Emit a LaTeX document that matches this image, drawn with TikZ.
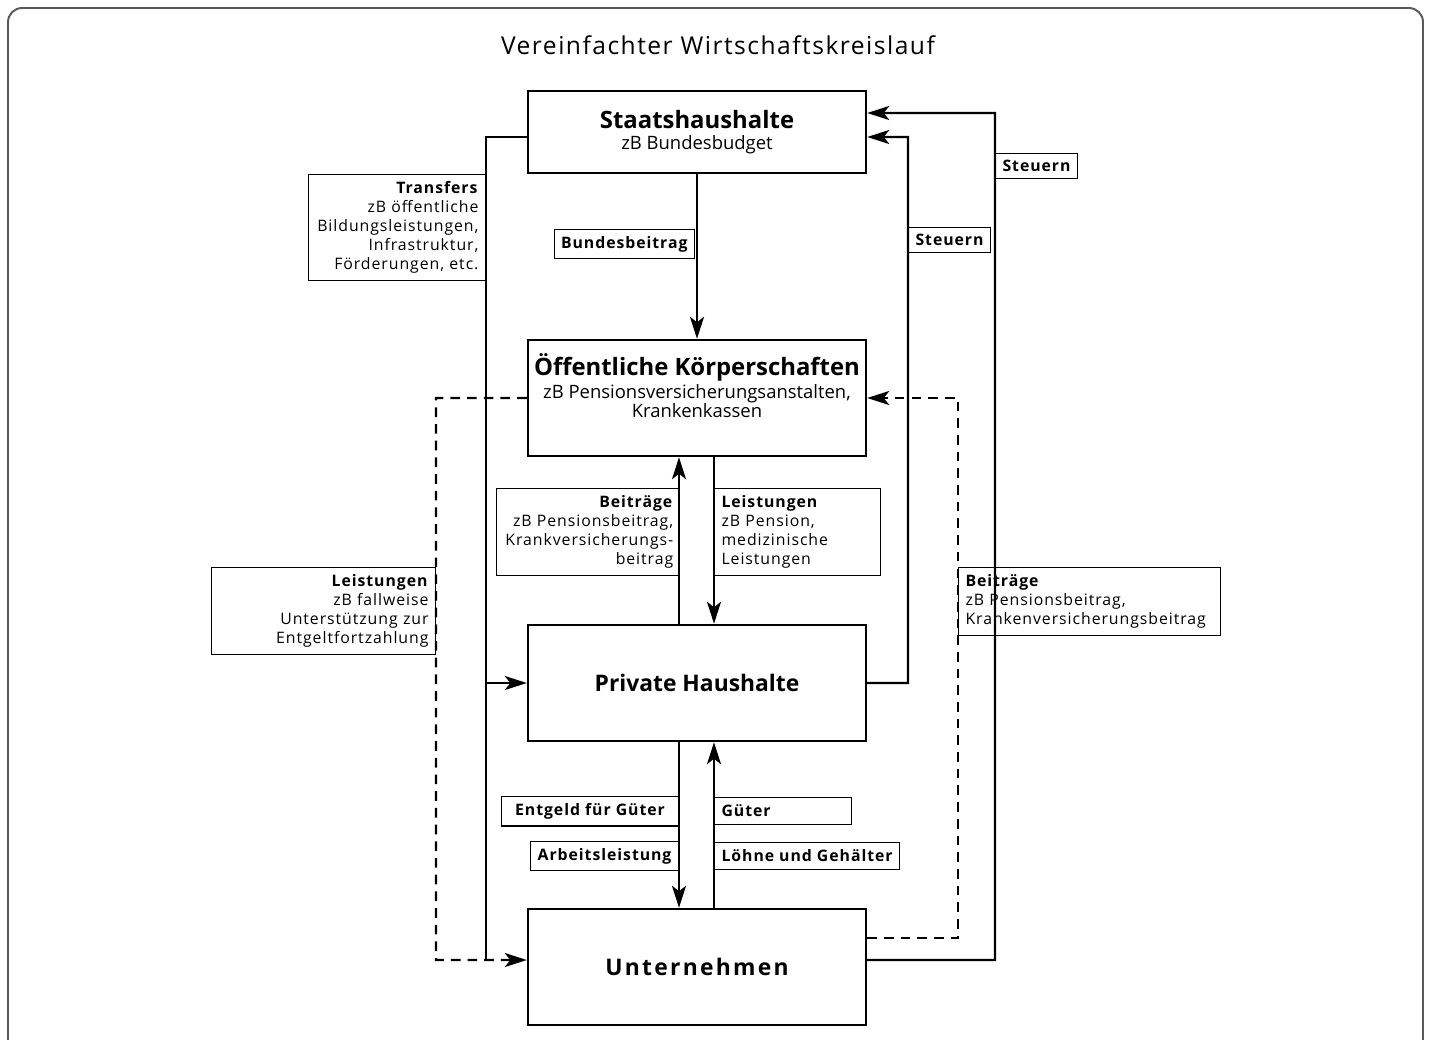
\documentclass[tikz,border=0pt]{standalone}
\usepackage{fontspec}
\setmainfont{Open Sans}
\newfontfamily\spaced[LetterSpace=6]{Open Sans}
\newfontfamily\wide[LetterSpace=10]{Open Sans}
\usepackage{tikz}
\usetikzlibrary{arrows.meta,positioning}

\begin{document}
\begin{tikzpicture}[x=0.02cm, y=-0.02cm,
  box/.style={rectangle, draw, line width=1.4pt, minimum width=6.76cm, minimum height=2.32cm, inner xsep=1pt, align=center, font=\fontsize{10.5}{10.6}\selectfont},
  tag/.style={rectangle, draw, line width=0.6pt, inner xsep=4pt, inner ysep=4pt, font=\spaced\fontsize{9}{10.8}\selectfont},
  flow/.style={line width=1.4pt},
  back/.style={line width=1.4pt, dash pattern=on 5.5pt off 4pt},
  >={Stealth[length=0.44cm, width=0.28cm, inset=0.11cm]}]
 \useasboundingbox (0,0) rectangle (1431,1039);
 \draw [gray!70!black, line width=1.1pt, rounded corners=8pt] (8,8) rectangle (1423,1080);
 \node [font=\spaced\fontsize{14}{16}\selectfont] (title) at (718,45) {Vereinfachter Wirtschaftskreislauf};
 \node [box, minimum height=1.64cm] (staat)  at (697,132) {{\bfseries\fontsize{13.6}{14}\selectfont Staatshaushalte}\\[1pt]zB Bundesbudget};
 \node [box] (koerp)  at (697,398) {{\bfseries\fontsize{13.6}{14}\selectfont Öffentliche Körperschaften}\\[1pt]zB Pensionsversicherungsanstalten,\\Krankenkassen\\[4pt]};
 \node [box] (privat) at (697,683) {\bfseries\fontsize{13}{15}\selectfont Private Haushalte};
 \node [box] (untern) at (697,967) {\wide\bfseries\fontsize{13}{15}\selectfont Unternehmen};
 \coordinate (tlane)  at (486,0);
 \coordinate (dlane)  at (436,0);
 \coordinate (s1lane) at (908,0);
 \coordinate (s2lane) at (995,0);
 \coordinate (blane)  at (958,0);
 \coordinate (llane)  at (679,0);
 \coordinate (rlane)  at (714,0);
  \draw [flow, ->] (staat.south) -- (koerp.north);
  \draw [flow] ([yshift=-0.1cm]staat.west) -| (tlane |- 0,960);
  \draw [flow, ->] (tlane |- privat.west) -- (privat.west);
  \draw [back, ->] (koerp.west) -| (dlane |- 0,960) -- ([yshift=0.14cm]untern.west);
  \draw [flow, ->] (privat.east) -| (s1lane |- 0,137) -- ([yshift=-0.1cm]staat.east);
  \draw [flow, ->] ([yshift=0.14cm]untern.east) -| (s2lane |- 0,113) -- ([yshift=0.38cm]staat.east);
  \draw [back, ->] ([yshift=0.58cm]untern.east) -| (blane |- koerp.east) -- (koerp.east);
  \draw [flow, ->] (llane |- privat.north) -- (llane |- koerp.south);
  \draw [flow, ->] (rlane |- koerp.south) -- (rlane |- privat.north);
  \draw [flow, ->] (llane |- privat.south) -- (llane |- untern.north);
  \draw [flow, ->] (rlane |- untern.north) -- (rlane |- privat.south);
 \node [tag, anchor=east] (bundesb) at (695,244) {\bfseries Bundesbeitrag};
 \node [tag, anchor=north east, text width=3.26cm, align=right] (transfers) at (486,174) {\textbf{Transfers}\\zB öffentliche\\Bildungsleistungen,\\Infrastruktur,\\Förderungen, etc.};
 \node [tag, anchor=west] (steuern1) at (908,240) {\bfseries Steuern};
 \node [tag, anchor=west] (steuern2) at (995,166) {\bfseries Steuern};
 \node [tag, anchor=north east, text width=4.2cm, align=right] (leistL) at (436,567) {\textbf{Leistungen}\\zB fallweise\\Unterstützung zur\\Entgeltfortzahlung};
 \node [tag, anchor=north east, inner xsep=3pt, text width=3.42cm, align=right] (beitrM) at (679,488) {\textbf{Beiträge}\\zB Pensionsbeitrag,\\Krankversicherungs-\\beitrag};
 \node [tag, anchor=north west, text width=3.04cm, align=left] (leistM) at (714,488) {\textbf{Leistungen}\\zB Pension,\\medizinische\\Leistungen};
 \node [tag, anchor=north west, text width=4.95cm, align=left] (beitrR) at (958,567) {\textbf{Beiträge}\\zB Pensionsbeitrag,\\Krankenversicherungsbeitrag};
 \node [tag, anchor=east, minimum width=3.54cm] (entgelt) at (679,811) {\bfseries Entgeld für Güter};
 \node [tag, anchor=west, text width=2.46cm, align=left] (gueter) at (714,811) {\bfseries Güter};
 \node [tag, anchor=east] (arbeit) at (679,856) {\bfseries Arbeitsleistung};
 \node [tag, anchor=west] (loehne) at (714,856) {\bfseries Löhne und Gehälter};
\end{tikzpicture}
\end{document}
